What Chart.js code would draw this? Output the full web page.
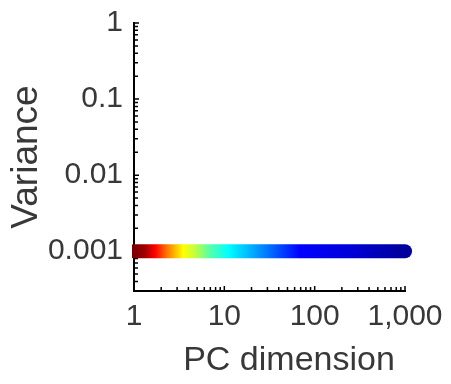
<!DOCTYPE html>
<html><head><meta charset="utf-8">
<script src="https://cdn.jsdelivr.net/npm/chart.js@4"></script>
<style>html,body{margin:0;padding:0;background:#fff}#wrap{width:451px;height:384px}</style>
</head><body><div id="wrap"><canvas id="c" width="451" height="384"></canvas></div>
<script>
// ---- data ----
const pcDimCount = 1000;
const pcDims = Array.from({length: pcDimCount}, (_, i) => i + 1);
const varianceLevel = 0.001;
const varianceValues = pcDims.map(() => varianceLevel);
const xTickValues = [1, 10, 100, 1000];
const xTickLabels = ['1', '10', '100', '1,000'];
const yTickValues = [0.001, 0.01, 0.1, 1];
const yTickLabels = ['0.001', '0.01', '0.1', '1'];
const xTitle = 'PC dimension';
const yTitle = 'Variance';
// colour ramp (style) along PC dimension
const colorStopDims = [1, 1.32, 1.71, 2.38, 3.49, 4.74, 6.6, 11, 28, 69, 246, 1000];
const colorStopColors = ['#7a0000','#a00000','#ff0000','#ff8000','#ffff00','#c0ff40','#60ffa0','#00ffff','#0080ff','#0000ff','#0000d8','#00009a'];

const FONT = '"Liberation Sans", Arial, Helvetica, sans-serif';
const TEXT = '#383838';

const points = pcDims.map((d, i) => ({x: d, y: varianceValues[i]}));

function gradientFor(chart) {
  const {ctx, chartArea, scales} = chart;
  if (!chartArea) return colorStopColors[0];
  const xs = scales.x;
  const x0 = xs.getPixelForValue(colorStopDims[0]);
  const x1 = xs.getPixelForValue(colorStopDims[colorStopDims.length - 1]);
  const g = ctx.createLinearGradient(x0, 0, x1, 0);
  colorStopDims.forEach((d, i) => {
    const p = (xs.getPixelForValue(d) - x0) / (x1 - x0);
    g.addColorStop(Math.min(1, Math.max(0, p)), colorStopColors[i]);
  });
  return g;
}

const inwardTicks = {
  id: 'inwardTicks',
  beforeDatasetsDraw(chart) {
    const {ctx, chartArea, scales} = chart;
    const xs = scales.x, ys = scales.y;
    ctx.save();
    ctx.strokeStyle = '#000';
    ctx.lineWidth = 1.5;
    ctx.beginPath();
    for (let e = 0; e <= 3; e++) {
      for (let m = 1; m <= 9; m++) {
        const v = m * Math.pow(10, e);
        if (v <= xs.min || v > xs.max) continue;
        const px = xs.getPixelForValue(v);
        const len = m === 1 ? 5 : 4;
        ctx.moveTo(px, chartArea.bottom);
        ctx.lineTo(px, chartArea.bottom - len);
      }
    }
    for (let e = -4; e <= 0; e++) {
      for (let m = 1; m <= 9; m++) {
        const v = m * Math.pow(10, e);
        if (v < ys.min || v > ys.max * 1.0001) continue;
        const py = ys.getPixelForValue(v);
        const len = m === 1 ? 5 : 4;
        ctx.moveTo(chartArea.left, py);
        ctx.lineTo(chartArea.left + len, py);
      }
    }
    ctx.stroke();
    ctx.restore();
  }
};

const xTitlePlugin = {
  id: 'xTitlePlugin',
  afterDraw(chart) {
    const {ctx} = chart;
    ctx.save();
    ctx.font = '34px ' + FONT;
    ctx.fillStyle = TEXT;
    ctx.textAlign = 'center';
    ctx.textBaseline = 'alphabetic';
    ctx.fillText(xTitle, 289, 370);
    ctx.restore();
  }
};

new Chart(document.getElementById('c'), {
  type: 'line',
  data: {
    datasets: [{
      data: points,
      borderColor: (c) => gradientFor(c.chart),
      borderWidth: 14,
      borderCapStyle: 'round',
      pointRadius: 0,
      fill: false,
      tension: 0,
      clip: {left: 2, right: 10, top: 20, bottom: 20}
    }]
  },
  options: {
    responsive: false,
    animation: false,
    devicePixelRatio: 1,
    layout: {padding: {top: 23, right: 46, bottom: 0, left: 0}},
    plugins: {legend: {display: false}, tooltip: {enabled: false}, title: {display: false}},
    scales: {
      x: {
        type: 'logarithmic',
        position: 'bottom',
        min: 1, max: 1000,
        grid: {display: false, drawTicks: false},
        border: {display: true, color: '#000', width: 2},
        afterBuildTicks: (s) => { s.ticks = xTickValues.map(v => ({value: v})); },
        afterFit: (s) => { s.height = 93; },
        ticks: {
          padding: 8, color: TEXT, autoSkip: false, maxRotation: 0,
          font: {size: 30, family: FONT},
          callback: (v) => { const i = xTickValues.indexOf(v); return i >= 0 ? xTickLabels[i] : ''; }
        },
        title: {display: false}
      },
      y: {
        type: 'logarithmic',
        position: 'left',
        min: 0.00033, max: 1,
        grid: {display: false, drawTicks: true, tickLength: 11},
        border: {display: true, color: '#000', width: 2},
        afterBuildTicks: (s) => { s.ticks = yTickValues.map(v => ({value: v})); },
        afterFit: (s) => { s.width = 134; },
        ticks: {
          padding: 0, color: TEXT, autoSkip: false,
          font: {size: 30, family: FONT},
          callback: (v) => { const i = yTickValues.findIndex(t => Math.abs(t - v) / t < 1e-6); return i >= 0 ? yTickLabels[i] : ''; }
        },
        title: {display: true, text: yTitle, color: TEXT, font: {size: 37, family: FONT}, padding: {top: 5, bottom: 0}}
      }
    }
  },
  plugins: [inwardTicks, xTitlePlugin]
});
</script></body></html>
